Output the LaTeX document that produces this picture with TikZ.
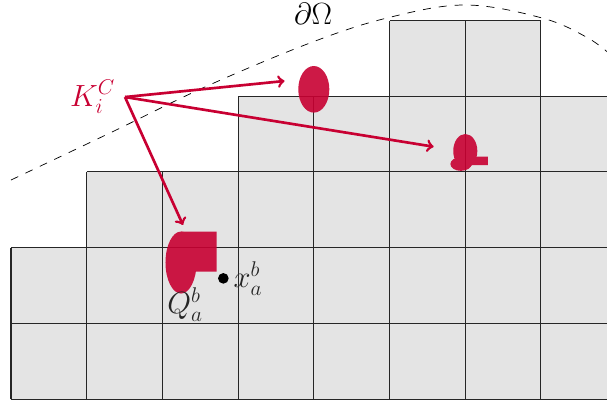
\documentclass[tikz,border=0pt]{standalone}
\usetikzlibrary{positioning}
\definecolor{crimson}{RGB}{200,0,50}
\definecolor{cellgray}{RGB}{228,228,228}
\tikzset{
    gridline/.style={line width=0.6pt, black!85, step=1.5cm},
    pointer/.style={->, line width=1.5pt, crimson},
    piece/.style={fill=crimson},
}
\begin{document}
\begin{tikzpicture}[x=1.5cm, y=1.5cm]
    \useasboundingbox (-0.145,-0.053) rectangle (7.873,5.271);
    \clip (-0.145,-0.053) rectangle (7.873,5.271);

    % Cells
    \fill[cellgray] (0,0) rectangle (8,2) (1,2) rectangle (8,3) (3,3) rectangle (8,4) (5,4) rectangle (7,5);
    \draw[gridline] (0,0) grid (8,2);
    \draw[gridline] (1,2) grid (8,3);
    \draw[gridline] (3,3) grid (8,4);
    \draw[gridline] (5,4) grid (7,5);

    % Boundary
    \draw[dash pattern=on 4.5pt off 4.5pt] plot[smooth, tension=0.6] coordinates
        {(0,2.893) (1.334,3.527) (2.563,4.122) (3.950,4.703) (4.967,5.033) (5.997,5.205) (7.015,5.033) (7.622,4.769) (7.95,4.52)};
    \node (domain) at (3.99,5.09) {\LARGE $\partial\Omega$};

    % Pieces
    \begin{scope}[transparency group, opacity=0.9]
        \fill[piece] (4,4.091) ellipse [x radius=0.205, y radius=0.308];
        \fill[piece] (6.001,3.276) ellipse [x radius=0.159, y radius=0.225];
        \fill[piece] (5.944,3.104) ellipse [x radius=0.14, y radius=0.09];
        \fill[piece] (6.0,3.091) rectangle (6.30,3.201);
        \fill[piece] (2.246,1.803) ellipse [x radius=0.205, y radius=0.41];
        \fill[piece] (2.246,1.682) rectangle (2.716,2.21);
    \end{scope}

    % Point and labels
    \node[circle, fill=black, inner sep=0pt, minimum size=6pt] (xab) at (2.805,1.594) {};
    \node[right=-1pt of xab, black!85] (xlabel) {\LARGE $x_a^b$};
    \node[black!85] (qlabel) at (2.30,1.25) {\LARGE $Q_a^b$};

    % Arrows
    \coordinate (kc) at (1.506,3.989);
    \coordinate (top) at (3.614,4.201);
    \coordinate (right) at (5.583,3.333);
    \coordinate (low) at (2.272,2.299);
    \node[left=2pt of kc, crimson] (klabel) {\LARGE $K_i^C$};
    \draw[pointer] (kc) -- (top);
    \draw[pointer] (kc) -- (right);
    \draw[pointer] (kc) -- (low);
\end{tikzpicture}
\end{document}
